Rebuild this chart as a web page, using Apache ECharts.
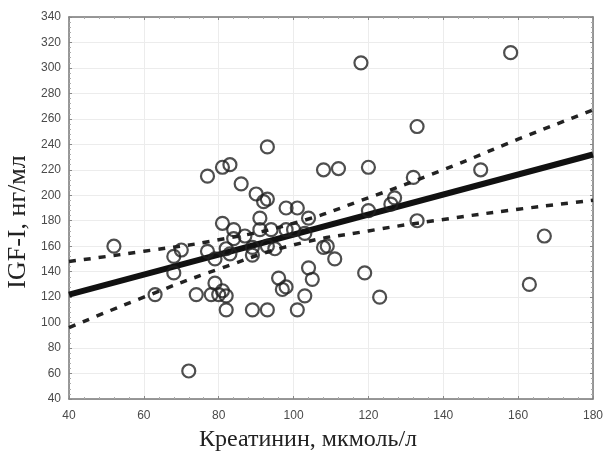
<!DOCTYPE html>
<html>
<head>
<meta charset="utf-8">
<script src="https://cdn.jsdelivr.net/npm/echarts@6/dist/echarts.min.js"></script>
<style>
  html, body { margin: 0; padding: 0; background: #fff; }
  #chart { width: 606px; height: 451px; }
</style>
</head>
<body>
<div id="chart"></div>
<script>
// креатинин (x) и IGF-I (y)
const creatinine = [52, 63, 68, 68, 70, 72, 74, 77, 77, 78, 79, 79, 80, 81, 81, 81, 82, 82, 82,
  83, 83, 84, 84, 86, 87, 89, 89, 89, 90, 91, 91, 92, 93, 93, 93, 93, 94, 95, 96, 97, 98,
  98, 98, 100, 101, 101, 103, 103, 104, 104, 105, 108, 108, 109, 111, 112, 118, 119, 120,
  120, 123, 126, 127, 132, 133, 133, 150, 158, 163, 167];
const igf = [160, 122, 152, 139, 157, 62, 122, 215, 156, 122, 131, 150, 122, 222, 178, 125, 121, 110, 158,
  224, 154, 173, 166, 209, 168, 110, 153, 159, 201, 182, 173, 195, 197, 238, 160, 110, 173, 158, 135, 126, 128,
  190, 173, 173, 190, 110, 170, 121, 182, 143, 134, 220, 159, 160, 150, 221, 304, 139, 222,
  188, 120, 193, 198, 214, 254, 180, 220, 312, 130, 168];

// линия регрессии и 95% доверительные границы
const fitX = [40, 180];
const fitY = [122, 232];
const bandX = [40, 60, 80, 100, 120, 140, 160, 180];
const upperY = [148, 156, 165, 178, 198, 220, 244, 267];
const lowerY = [96, 120, 142, 161, 172, 181, 189, 196];

const xTicks = [40, 60, 80, 100, 120, 140, 160, 180];
const yTicks = [40, 60, 80, 100, 120, 140, 160, 180, 200, 220, 240, 260, 280, 300, 320, 340];

const chart = echarts.init(document.getElementById('chart'));

const frameAxis = {
  axisLine: { show: true, lineStyle: { color: '#777', width: 1.5 } },
  axisTick: { show: true, inside: true, length: 3, lineStyle: { color: '#888' } },
  minorTick: { show: true, splitNumber: 5, length: 2, lineStyle: { color: '#aaa' } }
};

const titleFont = 'Liberation Serif, Times New Roman, serif';

const option = {
  animation: false,
  backgroundColor: '#fff',
  grid: { left: 69, right: 12, top: 17, bottom: 52 },
  graphic: [
    {
      type: 'text',
      x: 308,
      y: 440,
      style: {
        text: 'Креатинин, мкмоль/л',
        font: '24px ' + titleFont,
        fill: '#222',
        textAlign: 'center',
        textVerticalAlign: 'middle'
      }
    },
    {
      type: 'text',
      x: 18,
      y: 222,
      rotation: Math.PI / 2,
      style: {
        text: 'IGF-I, нг/мл',
        font: '26px ' + titleFont,
        fill: '#222',
        textAlign: 'center',
        textVerticalAlign: 'middle'
      }
    }
  ],
  xAxis: [{
    type: 'value',
    min: xTicks[0],
    max: xTicks[xTicks.length - 1],
    interval: 20,
    axisLabel: { color: '#4a4a4a', fontFamily: 'Liberation Sans', fontSize: 12, margin: 11 },
    splitLine: { show: true, lineStyle: { color: '#ececec' } },
    ...frameAxis
  }, {
    type: 'value',
    position: 'top',
    min: xTicks[0],
    max: xTicks[xTicks.length - 1],
    interval: 20,
    axisLabel: { show: false },
    splitLine: { show: false },
    ...frameAxis
  }],
  yAxis: [{
    type: 'value',
    min: yTicks[0],
    max: yTicks[yTicks.length - 1],
    interval: 20,
    axisLabel: { color: '#4a4a4a', fontFamily: 'Liberation Sans', fontSize: 12, margin: 8 },
    splitLine: { show: true, lineStyle: { color: '#ececec' } },
    ...frameAxis
  }, {
    type: 'value',
    position: 'right',
    min: yTicks[0],
    max: yTicks[yTicks.length - 1],
    interval: 20,
    axisLabel: { show: false },
    splitLine: { show: false },
    ...frameAxis
  }],
  series: [
    {
      type: 'line',
      data: bandX.map((x, i) => [x, upperY[i]]),
      smooth: 0.5,
      symbol: 'none',
      lineStyle: { color: '#222', width: 3.5, type: [7, 8] },
      z: 2
    },
    {
      type: 'line',
      data: bandX.map((x, i) => [x, lowerY[i]]),
      smooth: 0.5,
      symbol: 'none',
      lineStyle: { color: '#222', width: 3.5, type: [7, 8] },
      z: 2
    },
    {
      type: 'line',
      data: fitX.map((x, i) => [x, fitY[i]]),
      symbol: 'none',
      lineStyle: { color: '#111', width: 6 },
      z: 3
    },
    {
      type: 'scatter',
      data: creatinine.map((x, i) => [x, igf[i]]),
      symbol: 'circle',
      symbolSize: 13,
      itemStyle: { color: 'rgba(255,255,255,0)', borderColor: '#222', borderWidth: 2.2 },
      z: 4
    }
  ]
};

chart.setOption(option);
</script>
</body>
</html>
